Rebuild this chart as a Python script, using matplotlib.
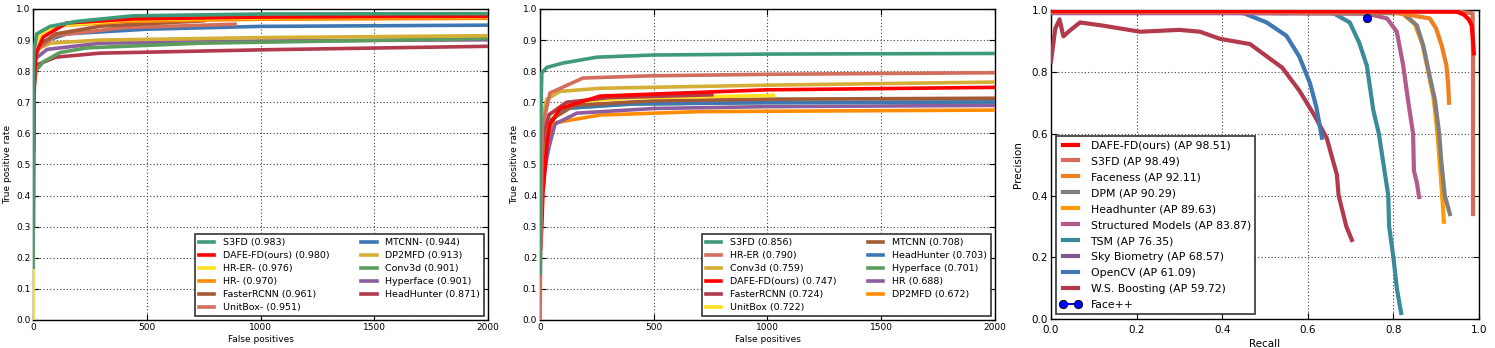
import matplotlib
matplotlib.use('Agg')
import matplotlib.pyplot as plt

# ---------------- data: FDDB discontinuous ROC ----------------
disc_names = ['S3FD (0.983)', 'DAFE-FD(ours) (0.980)', 'HR-ER- (0.976)', 'HR- (0.970)',
              'FasterRCNN (0.961)', 'UnitBox- (0.951)', 'MTCNN- (0.944)', 'DP2MFD (0.913)',
              'Conv3d (0.901)', 'Hyperface (0.901)', 'HeadHunter (0.871)']
disc_fp = [
    [0, 1, 3, 16, 75, 192, 440, 1027, 2000],
    [2, 4, 8, 15, 45, 148, 440, 1000, 2000],
    [0, 0, 3, 8, 30, 100, 400, 1000, 2000],
    [1, 3, 8, 30, 100, 400, 1000, 2000],
    [1, 3, 8, 20, 100, 300, 750],
    [1, 3, 8, 20, 100, 400, 888],
    [1, 3, 8, 20, 150, 500, 1000, 2000],
    [1, 4, 10, 30, 75, 294, 1000, 2000],
    [1, 4, 10, 45, 119, 236, 734, 2000],
    [1, 4, 10, 62, 294, 1000, 2000],
    [1, 4, 16, 100, 294, 1027, 2000],
]
disc_tpr = [
    [0.17, 0.60, 0.86, 0.920, 0.944, 0.960, 0.978, 0.984, 0.985],
    [0.30, 0.70, 0.80, 0.86, 0.910, 0.955, 0.968, 0.974, 0.977],
    [0.0, 0.17, 0.80, 0.87, 0.92, 0.945, 0.965, 0.972, 0.976],
    [0.60, 0.80, 0.87, 0.92, 0.945, 0.960, 0.967, 0.970],
    [0.55, 0.78, 0.85, 0.88, 0.920, 0.945, 0.962],
    [0.55, 0.76, 0.84, 0.87, 0.915, 0.940, 0.951],
    [0.60, 0.80, 0.86, 0.89, 0.920, 0.935, 0.944, 0.948],
    [0.55, 0.78, 0.85, 0.875, 0.890, 0.900, 0.908, 0.914],
    [0.55, 0.75, 0.80, 0.830, 0.860, 0.875, 0.890, 0.905],
    [0.55, 0.78, 0.84, 0.870, 0.890, 0.897, 0.901],
    [0.55, 0.75, 0.820, 0.845, 0.858, 0.869, 0.880],
]
disc_colors = ['#3f9a78', '#ff0000', '#ffe21f', '#ff8c00', '#a55a36', '#d36d5c',
               '#3f77b2', '#d5ae35', '#5a9d5d', '#8c5ea0', '#b13a4c']

# ---------------- data: FDDB continuous ROC ----------------
cont_names = ['S3FD (0.856)', 'HR-ER (0.790)', 'Conv3d (0.759)', 'DAFE-FD(ours) (0.747)',
              'FasterRCNN (0.724)', 'UnitBox (0.722)', 'MTCNN (0.708)', 'HeadHunter (0.703)',
              'Hyperface (0.701)', 'HR (0.688)', 'DP2MFD (0.672)']
cont_fp = [
    [1, 2, 8, 30, 100, 250, 500, 1000, 2000],
    [0, 2, 10, 44, 189, 484, 1000, 2000],
    [1, 3, 10, 30, 88, 264, 996, 2000],
    [3, 8, 13, 31, 44, 88, 264, 996, 2000],
    [2, 5, 15, 40, 117, 300, 755],
    [2, 5, 15, 40, 117, 400, 1026],
    [2, 5, 15, 40, 150, 500, 1000, 2000],
    [2, 5, 15, 40, 100, 400, 1000, 2000],
    [2, 5, 15, 40, 100, 400, 1000, 2000],
    [3, 10, 25, 40, 66, 162, 500, 1000, 2000],
    [3, 10, 25, 57, 264, 703, 2000],
]
cont_tpr = [
    [0.15, 0.60, 0.795, 0.812, 0.826, 0.845, 0.852, 0.855, 0.857],
    [0.0, 0.15, 0.62, 0.730, 0.778, 0.785, 0.790, 0.795],
    [0.25, 0.50, 0.65, 0.71, 0.735, 0.745, 0.755, 0.765],
    [0.23, 0.30, 0.41, 0.570, 0.630, 0.680, 0.720, 0.740, 0.748],
    [0.25, 0.45, 0.60, 0.66, 0.700, 0.715, 0.724],
    [0.25, 0.45, 0.60, 0.66, 0.700, 0.714, 0.722],
    [0.25, 0.45, 0.58, 0.64, 0.690, 0.705, 0.710, 0.713],
    [0.25, 0.45, 0.57, 0.63, 0.680, 0.695, 0.699, 0.701],
    [0.25, 0.45, 0.57, 0.63, 0.680, 0.694, 0.699, 0.701],
    [0.25, 0.40, 0.50, 0.557, 0.630, 0.665, 0.680, 0.686, 0.690],
    [0.25, 0.45, 0.56, 0.633, 0.659, 0.670, 0.675],
]
cont_colors = ['#3f9a78', '#d36d5c', '#d5ae35', '#ff0000', '#b13a4c', '#ffe21f',
               '#a55a36', '#3f77b2', '#5a9d5d', '#8c5ea0', '#ff8c00']

# ---------------- data: AFW precision-recall ----------------
pr_names = ['DAFE-FD(ours) (AP 98.51)', 'S3FD (AP 98.49)', 'Faceness (AP 92.11)',
            'DPM (AP 90.29)', 'Headhunter (AP 89.63)', 'Structured Models (AP 83.87)',
            'TSM (AP 76.35)', 'Sky Biometry (AP 68.57)', 'OpenCV (AP 61.09)',
            'W.S. Boosting (AP 59.72)']
pr_recall = [
    [0.0, 0.50, 0.948, 0.965, 0.976, 0.983, 0.986, 0.988],
    [0.0, 0.50, 0.950, 0.985, 0.986, 0.986],
    [0.0, 0.40, 0.800, 0.885, 0.900, 0.913, 0.924, 0.928, 0.930],
    [0.0, 0.40, 0.823, 0.855, 0.870, 0.885, 0.897, 0.907, 0.912, 0.920, 0.932],
    [0.0, 0.40, 0.820, 0.850, 0.868, 0.883, 0.894, 0.903, 0.908, 0.914, 0.918],
    [0.0, 0.40, 0.740, 0.785, 0.808, 0.823, 0.834, 0.846, 0.848, 0.855, 0.860],
    [0.0, 0.40, 0.620, 0.660, 0.698, 0.720, 0.738, 0.753, 0.766, 0.788, 0.790, 0.800, 0.808, 0.818],
    [0.0, 0.20, 0.40, 0.55],
    [0.0, 0.20, 0.400, 0.450, 0.504, 0.550, 0.580, 0.605, 0.620, 0.633],
    [0.0, 0.010, 0.020, 0.029, 0.045, 0.068, 0.120, 0.208, 0.300, 0.348, 0.395,
     0.465, 0.540, 0.580, 0.613, 0.644, 0.668, 0.672, 0.690, 0.703],
]
pr_precision = [
    [0.997, 0.997, 0.995, 0.985, 0.970, 0.950, 0.900, 0.860],
    [0.995, 0.995, 0.995, 0.990, 0.860, 0.340],
    [0.995, 0.995, 0.993, 0.973, 0.940, 0.884, 0.820, 0.760, 0.700],
    [0.995, 0.995, 0.990, 0.950, 0.884, 0.785, 0.710, 0.600, 0.510, 0.400, 0.340],
    [0.995, 0.995, 0.990, 0.955, 0.890, 0.790, 0.715, 0.600, 0.510, 0.400, 0.315],
    [0.990, 0.990, 0.988, 0.973, 0.930, 0.820, 0.710, 0.600, 0.480, 0.440, 0.395],
    [0.997, 0.997, 0.995, 0.990, 0.960, 0.895, 0.820, 0.676, 0.600, 0.400, 0.300, 0.200, 0.100, 0.020],
    [0.995, 0.995, 0.993, 0.990],
    [0.997, 0.997, 0.995, 0.990, 0.960, 0.917, 0.850, 0.764, 0.686, 0.587],
    [0.834, 0.940, 0.970, 0.915, 0.935, 0.960, 0.950, 0.930, 0.936, 0.930, 0.907,
     0.890, 0.814, 0.740, 0.665, 0.587, 0.467, 0.400, 0.300, 0.256],
]
pr_colors = ['#ff0000', '#d36d5c', '#f07f20', '#7f7f7f', '#ff9a00', '#b35a8c',
             '#3a8a9a', '#7a5a8a', '#3f77b2', '#b13a4c']
facepp_recall = [0.738]
facepp_precision = [0.975]

plt.rcParams.update({
    'font.family': 'DejaVu Sans',
    'xtick.direction': 'in',
    'ytick.direction': 'in',
    'xtick.top': True,
    'ytick.right': True,
    'xtick.major.size': 4,
    'ytick.major.size': 4,
    'axes.linewidth': 1.0,
    'axes.edgecolor': 'black',
})

fig = plt.figure(figsize=(14.95, 3.48), dpi=100)
ax1 = fig.add_axes([0.0221, 0.0805, 0.3043, 0.8937])
ax2 = fig.add_axes([0.3612, 0.0805, 0.3043, 0.8937])
ax3 = fig.add_axes([0.7030, 0.0830, 0.2863, 0.8880])


def style_axes(ax, fs):
    ax.grid(True, color='0.25', linestyle=(0, (1, 2)), linewidth=0.8)
    ax.tick_params(labelsize=fs, pad=2)
    ax.set_axisbelow(True)


def frame_legend(leg):
    leg.get_frame().set_edgecolor('#333333')
    leg.get_frame().set_linewidth(1.2)


# ROC panels
for ax, names, xs, ys, cols in [(ax1, disc_names, disc_fp, disc_tpr, disc_colors),
                                 (ax2, cont_names, cont_fp, cont_tpr, cont_colors)]:
    for i in reversed(range(len(names))):
        ax.plot(xs[i], ys[i], color=cols[i], lw=2.6, label=names[i], zorder=3 + len(names) - i)
    handles, labels = ax.get_legend_handles_labels()
    leg = ax.legend(handles[::-1], labels[::-1], loc='lower right', ncol=2, fontsize=6.8,
                    handlelength=1.6, handletextpad=0.9, labelspacing=0.42,
                    columnspacing=3.4, borderaxespad=0.45, fancybox=False, framealpha=1)
    frame_legend(leg)
    ax.set_xlim(0, 2000)
    ax.set_ylim(0, 1.0)
    ax.set_xticks([0, 500, 1000, 1500, 2000])
    ax.set_yticks([0.0, 0.1, 0.2, 0.3, 0.4, 0.5, 0.6, 0.7, 0.8, 0.9, 1.0])
    ax.set_xlabel('False positives', fontsize=6.5, labelpad=2)
    ax.set_ylabel('True positive rate', fontsize=6.5, labelpad=3)
    style_axes(ax, 6.5)

# PR panel
for i in reversed(range(len(pr_names))):
    ax3.plot(pr_recall[i], pr_precision[i], color=pr_colors[i], lw=3.0,
             label=pr_names[i], zorder=3 + len(pr_names) - i)
ax3.plot(facepp_recall, facepp_precision, 'o-', color='blue', mec='black', mew=0.6,
         ms=6, label='Face++', zorder=20)
h, l = ax3.get_legend_handles_labels()
h = h[:-1][::-1] + [h[-1]]
l = l[:-1][::-1] + [l[-1]]
leg = ax3.legend(h, l, loc='lower left', fontsize=7.8, numpoints=2, handlelength=1.9,
                 handletextpad=0.9, labelspacing=0.55, borderaxespad=0.45,
                 fancybox=False, framealpha=1)
frame_legend(leg)
ax3.set_xlim(0, 1.0)
ax3.set_ylim(0, 1.0)
ax3.set_xticks([0.0, 0.2, 0.4, 0.6, 0.8, 1.0])
ax3.set_yticks([0.0, 0.2, 0.4, 0.6, 0.8, 1.0])
ax3.set_xlabel('Recall', fontsize=7.5, labelpad=3)
ax3.set_ylabel('Precision', fontsize=7.5, labelpad=6)
style_axes(ax3, 7.5)
ax3.tick_params(axis='x', pad=4)

plt.savefig('out.png', dpi=100)
